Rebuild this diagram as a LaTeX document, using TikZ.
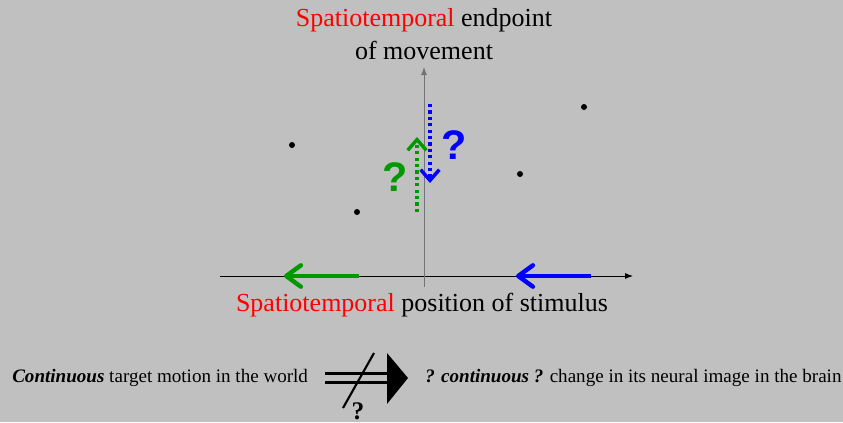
\documentclass[tikz,border=0pt]{standalone}
\usepackage{fontspec}
\setmainfont{Liberation Serif}
\newfontfamily\qmarkfont{Liberation Sans}
\usetikzlibrary{arrows.meta}
\definecolor{fond}{RGB}{192,192,192}
\definecolor{vert}{RGB}{0,153,0}
\definecolor{bleu}{RGB}{0,0,255}
\definecolor{rouge}{RGB}{255,0,0}
\begin{document}
\begin{tikzpicture}[x=0.75pt, y=-0.75pt,
    axe/.style={line width=0.7pt, -{Latex[length=6pt,width=4.5pt]}},
    titre/.style={font=\rmfamily\fontsize{19.5}{22}\selectfont, inner sep=0pt},
    texte/.style={font=\rmfamily\fontsize{14.3}{16}\selectfont, inner sep=0pt, anchor=west},
    point/.style={circle, fill=black, inner sep=0pt, minimum size=4.5pt},
    depl/.style={line width=3.5pt, -{Straight Barb[length=11pt,width=16pt,line width=3.3pt,round]}},
    pointille/.style={line width=2.7pt, dash pattern=on 2.4pt off 2.4pt,
                      -{Straight Barb[length=8pt,width=14pt,line width=2.6pt]}},
    question/.style={font=\qmarkfont\bfseries\fontsize{31}{31}\selectfont, inner sep=0pt}
]
    \fill[fond] (0,0) rectangle (843,422);
    \useasboundingbox (0,0) rectangle (843,422);

    % axes
    \coordinate (xg) at (220,276);
    \coordinate (xd) at (633,276);
    \coordinate (yb) at (424,287);
    \coordinate (yh) at (424,67);
    \draw[axe] (xg) -- (xd);
    \draw[axe, black!55] (yb) -- (yh);

    \node[titre] (fin1) at (424,20) {\textcolor{rouge}{Spatiotemporal} endpoint};
    \node[titre] (fin2) at (424,50) {of movement};
    \node[titre] (pos) at (422,305) {\textcolor{rouge}{Spatiotemporal} position of stimulus};

    % points
    \node[point] (p1) at (292,145) {};
    \node[point] (p2) at (357,212) {};
    \node[point] (p3) at (520,174) {};
    \node[point] (p4) at (584,107) {};

    % deplacements
    \coordinate (vd) at (359,276);
    \coordinate (va) at (284,276);
    \coordinate (bd) at (591,276);
    \coordinate (ba) at (516,276);
    \draw[depl, vert] (vd) -- (va);
    \draw[depl, bleu] (bd) -- (ba);

    \coordinate (vb) at (417,212);
    \coordinate (vh) at (417,137);
    \coordinate (bh) at (430,104);
    \coordinate (bb) at (430,183);
    \draw[pointille, vert] (vb) -- (vh);
    \draw[pointille, bleu] (bh) -- (bb);

    \node[question, vert] (qv) at (395,177) {?};
    \node[question, bleu] (qb) at (454,145) {?};

    % legende
    \node[texte] (monde) at (12,378) {\textbf{\textit{Continuous}} target motion in the world};
    \node[texte] (cerveau) at (425,378) {\textbf{\textit{? continuous ?}} change in its neural image in the brain};

    \coordinate (d1) at (325,373.3);
    \coordinate (f1) at (389,373.3);
    \coordinate (d2) at (325,382.3);
    \coordinate (f2) at (389,382.3);
    \draw[line width=2.5pt] (d1) -- (f1);
    \draw[line width=2.5pt] (d2) -- (f2);
    \fill (387,353) -- (408,378) -- (387,404) -- cycle;
    \coordinate (sb) at (343,408);
    \coordinate (sh) at (374,353);
    \draw[line width=1.6pt] (sb) -- (sh);
    \node[font=\rmfamily\bfseries\fontsize{19}{19}\selectfont, inner sep=0pt] (qs) at (358,411) {?};
\end{tikzpicture}
\end{document}
